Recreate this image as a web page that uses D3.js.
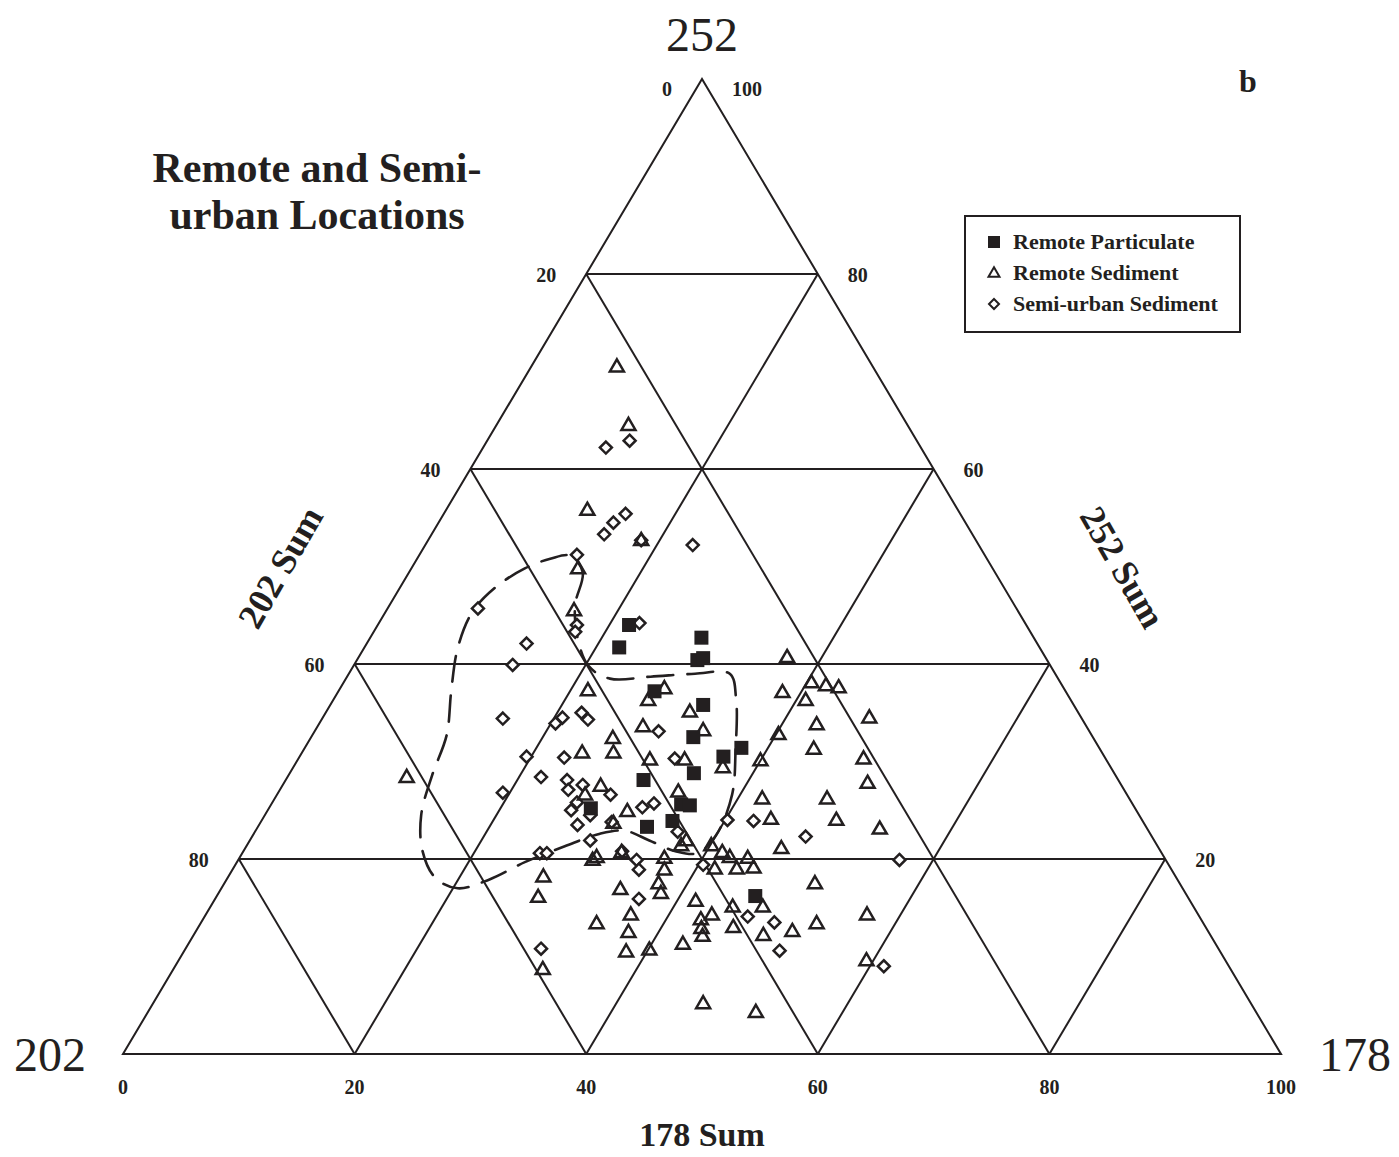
<!DOCTYPE html>
<html>
<head>
<meta charset="utf-8">
<script src="https://cdn.jsdelivr.net/npm/d3@7"></script>
<style>
  html, body { margin: 0; padding: 0; background: #fff; }
  svg { display: block; }
  text { font-family: "Liberation Serif", "Times New Roman", serif; fill: #231f20; }
</style>
</head>
<body>
<svg id="chart" width="1399" height="1157"></svg>
<script>
// Ternary composition: each pair is [178 Sum %, 252 Sum %]; 202 Sum = 100 - both.
const remoteParticulate = [
  [21.7,44.0],[22.0,41.7],[28.6,42.7],[29.4,40.4],[29.8,40.6],[27.3,37.2],
  [32.2,35.8],[33.0,32.5],[37.7,31.4],[36.6,30.5],[34.9,28.8],[30.9,28.1],
  [35.4,25.6],[36.2,25.5],[27.8,25.2],[33.6,23.3],[35.5,23.9],[46.5,16.2]
];

const remoteSediment = [
  [7.4,70.5],[11.4,64.5],[12.2,55.8],[18.4,52.7],[14.4,49.8],[16.2,45.5],
  [37.0,40.7],[38.4,37.1],[40.4,38.1],[41.8,37.8],[43.0,37.6],[40.8,36.3],
  [47.2,34.5],[43.0,33.8],[40.2,32.8],[44.0,31.3],[40.0,30.1],[48.8,30.3],
  [50.4,27.8],[42.1,26.2],[47.7,26.2],[43.9,24.1],[49.6,24.0],[53.8,23.1],
  [46.3,21.1],[44.9,19.1],[43.9,20.1],[51.0,17.5],[47.7,15.1],[57.1,14.3],
  [53.2,13.4],[49.2,12.2],[51.5,12.6],[59.4,9.6],[52.5,4.3],
  [30.6,19.9],[30.8,20.2],[36.7,20.1],[37.3,18.9],[34.5,16.9],[37.5,17.5],
  [38.2,16.5],[36.7,14.3],[34.2,13.4],[37.4,12.5],[38.2,10.5],[40.1,10.7],
  [41.6,15.7],[43.0,13.8],[43.7,14.3],[43.5,12.9],[44.0,12.1],[42.7,11.3],
  [41.6,19.0],[43.5,19.0],[42.3,20.2],[41.4,20.7],[45.1,15.1],[46.2,13.0],
  [47.5,5.2],[27.2,18.2],[27.8,16.1],[31.9,8.7],
  [21.5,37.3],[27.2,36.3],[28.0,37.5],[31.4,35.1],[33.5,33.2],[28.1,33.6],
  [26.1,32.4],[24.2,30.9],[26.9,30.9],[30.4,30.2],[33.4,30.2],[37.1,29.4],
  [27.5,27.5],[26.6,26.6],[31.1,24.9],[34.5,26.9],[30.5,23.7],[37.7,21.9],
  [37.5,21.4],[40.1,21.4],[10.3,28.4],[32.7,20.7]
];

const semiUrbanSediment = [
  [10.6,62.2],[12.3,62.9],[15.7,55.4],[15.1,54.5],[14.9,53.3],[18.4,52.7],
  [23.1,52.2],[13.6,51.2],[17.2,44.0],[17.4,43.3],[22.5,44.2],[7.8,45.7],
  [13.8,42.1],[13.7,39.9],[15.6,34.4],[19.6,30.5],[21.9,28.4],[19.4,26.8],
  [20.7,34.5],[20.4,33.9],[22.1,35.0],[23.0,34.3],[22.9,30.4],[24.3,28.1],
  [24.9,27.1],[25.9,27.6],[26.3,25.8],[26.2,25.0],[27.5,23.5],[28.1,24.5],
  [28.8,26.6],[30.3,23.8],[29.4,21.9],[25.7,20.6],[26.3,20.6],[34.4,19.9],
  [35.1,18.9],[32.2,25.3],[33.0,25.7],[36.5,22.8],[29.7,33.1],[32.5,30.3],
  [40.2,24.0],[42.5,23.9],[47.8,22.3],[57.1,19.9],[46.9,14.1],[49.5,13.5],
  [51.4,10.6],[61.2,9.0],[32.7,20.8],[36.6,15.9],[40.4,19.4],[30.7,10.8]
];

// Dashed envelope around the semi-urban group, same [178, 252] composition.
const semiUrbanEnvelope = [
  [13.1,51.1],[15.0,49.4],[16.0,46.1],[17.7,43.0],[20.3,39.8],[22.8,38.5],
  [26.2,38.7],[29.9,39.0],[32.9,39.0],[34.8,36.3],[37.3,31.2],[39.3,26.6],
  [40.0,22.4],[39.3,20.6],[37.3,20.8],[34.5,21.9],[31.9,22.9],[29.9,22.6],
  [27.5,21.3],[24.9,19.7],[22.7,17.9],[20.4,17.0],[17.9,18.1],[15.4,20.9],
  [13.5,24.5],[12.4,28.6],[11.6,32.7],[9.7,37.3],[8.1,41.6],[7.5,45.3],
  [8.2,47.8],[9.8,49.8],[11.5,50.8]
];

const gridValues = [20, 40, 60, 80];
const bottomTicks = [0, 20, 40, 60, 80, 100];
const leftTicks = [0, 20, 40, 60, 80];      // 202 Sum along the left edge
const rightTicks = [100, 80, 60, 40, 20];   // 252 Sum along the right edge
const legendItems = ["Remote Particulate", "Remote Sediment", "Semi-urban Sediment"];

const ink = "#231f20";
const svg = d3.select("#chart");
svg.append("rect").attr("width", 1399).attr("height", 1157).attr("fill", "#fff");

// Scales: horizontal position along the base, vertical = 252 share.
const xScale = d3.scaleLinear().domain([0, 100]).range([123, 1281]);
const yScale = d3.scaleLinear().domain([0, 100]).range([1054, 79]);
const proj = (c178, c252) => [xScale(c178 + c252 / 2), yScale(c252)];

const g = svg.append("g");

// Grid lines
const gridSegs = [];
gridValues.forEach(v => {
  gridSegs.push([proj(0, v), proj(100 - v, v)]);        // constant 252
  gridSegs.push([proj(v, 0), proj(v, 100 - v)]);        // constant 178
  gridSegs.push([proj(100 - v, 0), proj(0, 100 - v)]);  // constant 202
});
g.selectAll("line.grid").data(gridSegs).join("line")
  .attr("x1", d => d[0][0]).attr("y1", d => d[0][1])
  .attr("x2", d => d[1][0]).attr("y2", d => d[1][1])
  .attr("stroke", ink).attr("stroke-width", 2);

// Outer triangle
g.append("path")
  .attr("d", d3.line()([proj(0, 0), proj(100, 0), proj(0, 100)]) + "Z")
  .attr("fill", "none").attr("stroke", ink).attr("stroke-width", 2)
  .attr("stroke-linejoin", "miter");

// Tick labels (the apex pair sits a little lower than the rest)
const tickSize = 20;
const apexDrop = v => (v === 0 || v === 100) ? 9 : 0;
g.selectAll("text.btick").data(bottomTicks).join("text")
  .attr("x", d => xScale(d)).attr("y", 1094)
  .attr("text-anchor", "middle").attr("font-size", tickSize).attr("font-weight", "bold")
  .text(d => d);
g.selectAll("text.ltick").data(leftTicks).join("text")
  .attr("x", d => proj(0, 100 - d)[0] - 30).attr("y", d => proj(0, 100 - d)[1] + 8 + apexDrop(d))
  .attr("text-anchor", "end").attr("font-size", tickSize).attr("font-weight", "bold")
  .text(d => d);
g.selectAll("text.rtick").data(rightTicks).join("text")
  .attr("x", d => proj(100 - d, d)[0] + 30).attr("y", d => proj(100 - d, d)[1] + 8 + apexDrop(d))
  .attr("text-anchor", "start").attr("font-size", tickSize).attr("font-weight", "bold")
  .text(d => d);

// Envelope (dashed)
g.append("path")
  .datum(semiUrbanEnvelope.map(d => proj(d[0], d[1])))
  .attr("d", d3.line().curve(d3.curveCatmullRomClosed.alpha(0.5)))
  .attr("fill", "none").attr("stroke", ink).attr("stroke-width", 2.6)
  .attr("stroke-dasharray", "26,14").attr("stroke-linecap", "round");

// Markers
const triPath = s => {
  const h = s * Math.sqrt(3) / 2;
  return `M0,${-h * 0.6}L${s / 2},${h * 0.4}L${-s / 2},${h * 0.4}Z`;
};
const diaPath = r => `M0,${-r}L${r},0L0,${r}L${-r},0Z`;

g.selectAll("path.diamond").data(semiUrbanSediment).join("path")
  .attr("transform", d => `translate(${proj(d[0], d[1])})`)
  .attr("d", diaPath(6))
  .attr("fill", "#fff").attr("stroke", ink).attr("stroke-width", 2.5);

g.selectAll("path.tri").data(remoteSediment).join("path")
  .attr("transform", d => `translate(${proj(d[0], d[1])})`)
  .attr("d", triPath(14))
  .attr("fill", "none").attr("stroke", ink).attr("stroke-width", 2.5)
  .attr("stroke-linejoin", "miter");

g.selectAll("rect.sq").data(remoteParticulate).join("rect")
  .attr("x", d => proj(d[0], d[1])[0] - 7).attr("y", d => proj(d[0], d[1])[1] - 7)
  .attr("width", 14).attr("height", 14).attr("fill", ink);

// Corner labels
svg.append("text").attr("x", 702).attr("y", 51).attr("text-anchor", "middle")
  .attr("font-size", 48).text("252");
svg.append("text").attr("x", 50).attr("y", 1071).attr("text-anchor", "middle")
  .attr("font-size", 48).text("202");
svg.append("text").attr("x", 1355).attr("y", 1071).attr("text-anchor", "middle")
  .attr("font-size", 48).text("178");

// Axis titles
svg.append("text").attr("x", 702).attr("y", 1146).attr("text-anchor", "middle")
  .attr("font-size", 34).attr("font-weight", "bold").text("178 Sum");
svg.append("text").attr("transform", "translate(280,567) rotate(-60)")
  .attr("text-anchor", "middle").attr("dy", "0.35em")
  .attr("font-size", 36).attr("font-weight", "bold").text("202 Sum");
svg.append("text").attr("transform", "translate(1123,567) rotate(60)")
  .attr("text-anchor", "middle").attr("dy", "0.35em")
  .attr("font-size", 36).attr("font-weight", "bold").text("252 Sum");

// Panel letter and title
svg.append("text").attr("x", 1248).attr("y", 92).attr("text-anchor", "middle")
  .attr("font-size", 32).attr("font-weight", "bold").text("b");
svg.append("text").attr("x", 317).attr("y", 182).attr("text-anchor", "middle")
  .attr("font-size", 42).attr("font-weight", "bold").text("Remote and Semi-");
svg.append("text").attr("x", 317).attr("y", 229).attr("text-anchor", "middle")
  .attr("font-size", 42).attr("font-weight", "bold").text("urban Locations");

// Legend
const lg = svg.append("g").attr("transform", "translate(965,216)");
lg.append("rect").attr("width", 275).attr("height", 116)
  .attr("fill", "#fff").attr("stroke", ink).attr("stroke-width", 2);
const rows = lg.selectAll("g.row").data(legendItems).join("g")
  .attr("transform", (d, i) => `translate(29,${26 + i * 31})`);
rows.each(function (d, i) {
  const r = d3.select(this);
  if (i === 0) {
    r.append("rect").attr("x", -6).attr("y", -6).attr("width", 12).attr("height", 12).attr("fill", ink);
  } else if (i === 1) {
    r.append("path").attr("d", triPath(11)).attr("fill", "none").attr("stroke", ink).attr("stroke-width", 2);
  } else {
    r.append("path").attr("d", diaPath(5)).attr("fill", "none").attr("stroke", ink).attr("stroke-width", 2);
  }
  r.append("text").attr("x", 19).attr("y", 7)
    .attr("font-size", 22).attr("font-weight", "bold").text(d);
});
</script>
</body>
</html>
